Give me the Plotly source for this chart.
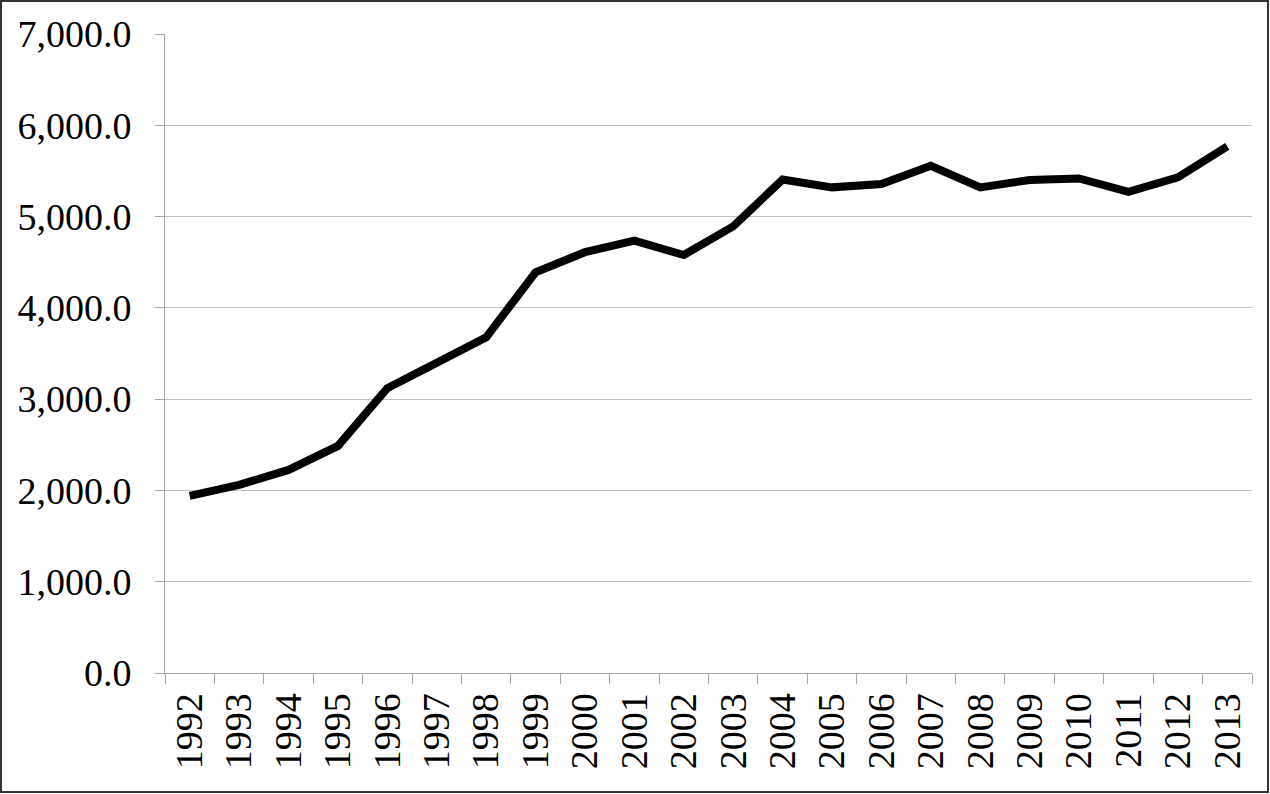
import plotly.graph_objects as go

years = [str(y) for y in range(1992, 2014)]
values = [1940, 2060, 2225, 2487, 3120, 3395, 3677, 4390, 4610, 4736,
          4579, 4893, 5405, 5320, 5357, 5557, 5320, 5400, 5418, 5272,
          5430, 5768]
y_ticks = [0, 1000, 2000, 3000, 4000, 5000, 6000, 7000]

W, H = 1270, 794
ml, mr, mt, mb = 165, 18, 34, 121
pw, ph = W - ml - mr, H - mt - mb

fig = go.Figure()
fig.add_trace(go.Scatter(
    x=years, y=values, mode="lines",
    line=dict(color="black", width=8),
    hoverinfo="x+y", showlegend=False,
))

font = dict(family="Liberation Serif, Times New Roman, serif", size=38, color="black")

fig.update_layout(
    width=W, height=H,
    margin=dict(l=ml, r=mr, t=mt, b=mb, autoexpand=False),
    paper_bgcolor="white", plot_bgcolor="white",
    font=font,
    xaxis=dict(
        type="category", range=[-0.5, len(years) - 0.5],
        tickson="boundaries", ticks="outside", ticklen=10, tickcolor="#A6A6A6",
        tickwidth=1, showgrid=False, showline=True, linecolor="#A6A6A6",
        linewidth=1, tickangle=-90, tickfont=font, automargin=False,
        ticklabelstandoff=4, fixedrange=True,
    ),
    yaxis=dict(
        range=[0, 7000], tickvals=y_ticks, tickformat=",.1f",
        ticks="outside", ticklen=9, tickcolor="#A6A6A6", tickwidth=1,
        showgrid=True, gridcolor="#BFBFBF", gridwidth=1,
        showline=True, linecolor="#A6A6A6", linewidth=1,
        zeroline=False, tickfont=font, automargin=False,
        ticklabelstandoff=16, fixedrange=True,
    ),
    shapes=[dict(
        type="rect", xref="paper", yref="paper",
        x0=(1 - ml) / pw, x1=(W - 2 - ml) / pw,
        y0=(mt + ph - (H - 2)) / ph, y1=(mt + ph - 1) / ph,
        line=dict(color="#333333", width=2), fillcolor="rgba(0,0,0,0)",
        layer="above",
    )],
)

fig.write_html(
    "out.html",
    config={"displayModeBar": False},
    post_script="document.body.style.margin='0';document.body.style.overflow='hidden';",
)
